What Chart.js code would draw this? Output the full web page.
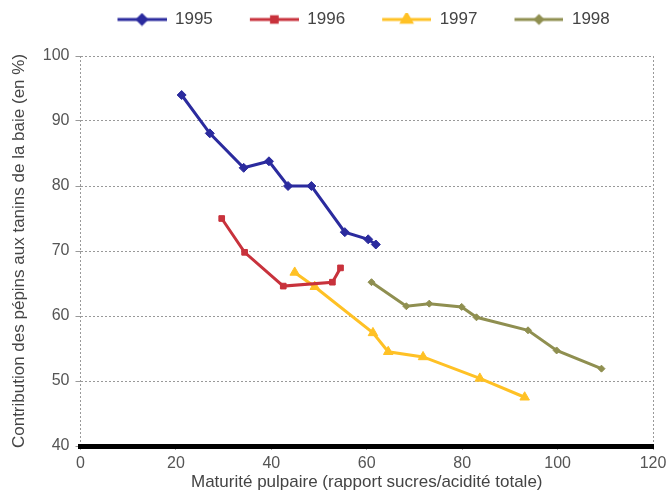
<!DOCTYPE html>
<html>
<head>
<meta charset="utf-8">
<script src="https://cdn.jsdelivr.net/npm/chart.js@4/dist/chart.umd.min.js"></script>
<style>
  html, body { margin: 0; padding: 0; background: #fff; }
  #wrap { width: 666px; height: 495px; }
</style>
</head>
<body>
<div id="wrap"><canvas id="chart" width="666" height="495"></canvas></div>
<script>
// values
const years = ['1995', '1996', '1997', '1998']

const x1995 = [21.2, 27.1, 34.2, 39.5, 43.5, 48.4, 55.4, 60.3, 61.9]
const y1995 = [94, 88.1, 82.8, 83.8, 80, 80, 72.9, 71.8, 71]

const x1996 = [29.6, 34.4, 42.5, 52.8, 54.5]
const y1996 = [75, 69.8, 64.6, 65.2, 67.4]

const x1997 = [44.9, 49.1, 61.3, 64.5, 71.8, 83.7, 93.1]
const y1997 = [66.7, 64.5, 57.4, 54.5, 53.7, 50.4, 47.5]

const x1998 = [61, 68.3, 73.1, 79.9, 83, 93.8, 99.8, 109.2]
const y1998 = [65.2, 61.5, 61.9, 61.4, 59.8, 57.8, 54.7, 51.9]

const xTicks = [0, 20, 40, 60, 80, 100, 120]
const yTicks = [40, 50, 60, 70, 80, 90, 100]

const colors = ['#2b2b9e', '#c8323c', '#ffc125', '#8f8f50']
const markers = ['rectRot', 'rect', 'triangle', 'rectRot']
const markerSizes = [4.5, 4, 5.5, 3.5]

const font = '"Liberation Sans", Arial, sans-serif'

function toPoints(xs, ys) {
  return xs.map((x, i) => ({ x: x, y: ys[i] }))
}

// legend icon: a short line with the marker in its middle, left margin kept empty
function legendIcon(color, style, radius) {
  let margin = 29
  let len = 49
  let c = document.createElement('canvas')
  c.width = margin + len
  c.height = 14
  let ctx = c.getContext('2d')
  ctx.strokeStyle = color
  ctx.lineWidth = 3
  ctx.beginPath()
  ctx.moveTo(margin, 7)
  ctx.lineTo(margin + len, 7)
  ctx.stroke()
  ctx.fillStyle = color
  Chart.helpers.drawPoint(ctx, { pointStyle: style, radius: radius, borderWidth: 1 }, margin + len / 2, 7)
  ctx.fill()
  return c
}

const series = [[x1995, y1995], [x1996, y1996], [x1997, y1997], [x1998, y1998]]

const datasets = series.map((s, i) => ({
  label: years[i],
  data: toPoints(s[0], s[1]),
  borderColor: colors[i],
  backgroundColor: colors[i],
  borderWidth: 3,
  pointStyle: markers[i],
  pointRadius: markerSizes[i],
  pointBorderWidth: 1,
  showLine: true,
  tension: 0
}))

const icons = colors.map((c, i) => legendIcon(c, markers[i], markerSizes[i]))

new Chart(document.getElementById('chart').getContext('2d'), {
  type: 'scatter',
  data: { datasets: datasets },
  options: {
    responsive: false,
    animation: false,
    layout: { padding: { top: 3, left: 0, right: 0, bottom: 0 } },
    plugins: {
      tooltip: { enabled: false },
      legend: {
        position: 'top',
        align: 'start',
        fullSize: false,
        weight: 1000,
        labels: {
          usePointStyle: true,
          pointStyleWidth: 78,
          padding: 8,
          color: '#444',
          font: { family: font, size: 17 },
          generateLabels: chart => Chart.defaults.plugins.legend.labels.generateLabels(chart)
            .map((l, i) => ({ ...l, pointStyle: icons[i] }))
        }
      },
      // empty spacer between the legend and the plot area
      title: {
        display: true,
        text: ' ',
        position: 'top',
        weight: 500,
        font: { size: 10, lineHeight: 1 },
        padding: { top: 4, bottom: 4 }
      }
    },
    scales: {
      x: {
        type: 'linear',
        min: 0,
        max: 120,
        afterBuildTicks: scale => { scale.ticks = xTicks.map(v => ({ value: v })) },
        afterFit: scale => {
          scale.height = 49
          scale.paddingLeft = 0
          scale.paddingRight = 13
        },
        ticks: {
          color: '#555',
          padding: 4,
          font: { family: font, size: 16 }
        },
        grid: {
          color: ctx => (ctx.tick && (ctx.tick.value === 0 || ctx.tick.value === 120)) ? '#999' : 'rgba(0,0,0,0)',
          tickColor: '#aaa',
          tickLength: 4,
          lineWidth: 1
        },
        border: { color: '#000', width: 5, dash: [2, 2] },
        title: {
          display: true,
          text: 'Maturité pulpaire (rapport sucres/acidité totale)',
          color: '#444',
          font: { family: font, size: 17 },
          padding: { top: 0, bottom: 2 }
        }
      },
      y: {
        type: 'linear',
        min: 40,
        max: 100,
        afterBuildTicks: scale => { scale.ticks = yTicks.map(v => ({ value: v })) },
        afterFit: scale => { scale.width = 80.5 },
        ticks: {
          color: '#555',
          padding: 6,
          font: { family: font, size: 16 }
        },
        grid: {
          color: '#999',
          lineWidth: 1,
          tickLength: 5
        },
        border: { display: false, dash: [2, 2] },
        title: {
          display: true,
          text: 'Contribution des pépins aux tanins de la baie (en %)',
          color: '#444',
          font: { family: font, size: 17 },
          padding: { top: 9.5, bottom: 0 }
        }
      }
    }
  }
})
</script>
</body>
</html>
